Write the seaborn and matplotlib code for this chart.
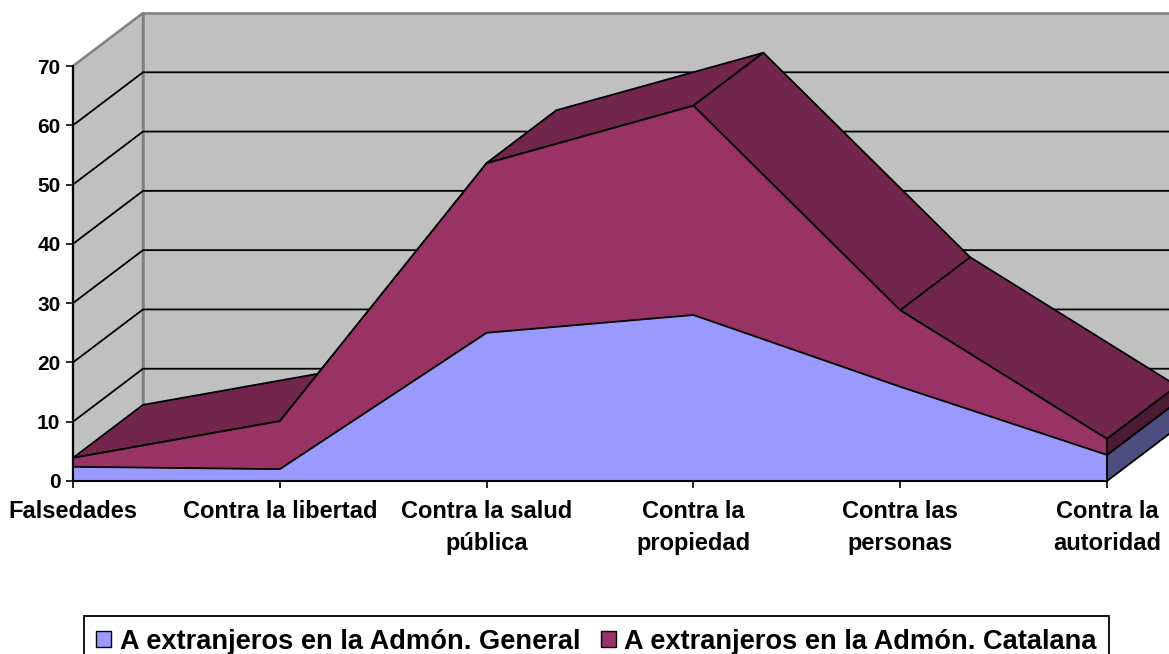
import numpy as np
import pandas as pd
import matplotlib
matplotlib.use('Agg')
import matplotlib.pyplot as plt
from matplotlib.patches import Patch, Polygon
import seaborn as sns

categorias = ['Falsedades', 'Contra la libertad', 'Contra la salud\npública',
              'Contra la\npropiedad', 'Contra las\npersonas', 'Contra la\nautoridad']
general = [2.4, 2.0, 25.0, 28.0, 15.9, 4.4]
catalana = [1.5, 8.1, 28.6, 35.3, 12.9, 2.7]
nombres = ['A extranjeros en la Admón. General', 'A extranjeros en la Admón. Catalana']
yticks = [0, 10, 20, 30, 40, 50, 60, 70]

AZUL = '#9999FF'
GRANATE = '#993366'
GRANATE_TOP = '#73264D'
GRANATE_LADO = '#4D1A33'
AZUL_LADO = '#4D4D80'
PARED = '#C0C0C0'
BORDE = '#808080'
LW = 1.3


def cara(ax, pts, color, z, lw=LW, edge='black'):
    ax.add_patch(Polygon(pts, closed=True, facecolor=color, edgecolor=edge,
                         linewidth=lw, zorder=z, clip_on=False, joinstyle='round'))


def main():
    sns.set_style('white')
    plt.rcParams['font.family'] = ['Liberation Sans', 'DejaVu Sans']
    plt.rcParams['font.weight'] = 'bold'
    plt.rcParams['text.color'] = 'black'

    fig = plt.figure(figsize=(11.69, 6.54), dpi=100)
    # el plano frontal del grafico, lo demas sale fuera con clip_on=False
    ax = fig.add_axes([73 / 1169, 1 - 481 / 654, (1107 - 73) / 1169, (481 - 66) / 654])
    ax.set_xlim(0, 5)
    ax.set_ylim(0, 70)

    # profundidad del efecto 3D en unidades de los ejes
    dx = 70 / (1034 / 5)
    dy = 53 / (415 / 70)

    x = np.arange(len(categorias))
    gen = np.array(general)
    total = gen + np.array(catalana)

    # paredes
    cara(ax, [(0, 0), (dx, dy), (dx, 70 + dy), (0, 70)], PARED, 1, lw=1.8, edge=BORDE)
    cara(ax, [(dx, dy), (5 + dx, dy), (5 + dx, 70 + dy), (dx, 70 + dy)], PARED, 1, lw=1.8, edge=BORDE)
    for v in yticks[1:-1]:
        ax.plot([0, dx, 5 + dx], [v, v + dy, v + dy], color='black', lw=LW, zorder=2, clip_on=False)

    # caras superiores, de izquierda a derecha
    for i in range(len(x) - 1):
        cara(ax, [(x[i], total[i]), (x[i + 1], total[i + 1]),
                  (x[i + 1] + dx, total[i + 1] + dy), (x[i] + dx, total[i] + dy)], GRANATE_TOP, 3)

    # lado derecho
    cara(ax, [(5, 0), (5 + dx, dy), (5 + dx, gen[-1] + dy), (5, gen[-1])], AZUL_LADO, 3)
    cara(ax, [(5, gen[-1]), (5 + dx, gen[-1] + dy), (5 + dx, total[-1] + dy), (5, total[-1])], GRANATE_LADO, 3)

    # caras frontales
    ax.fill_between(x, 0, gen, color=AZUL, lw=0, zorder=4)
    ax.fill_between(x, gen, total, color=GRANATE, lw=0, zorder=4)

    df = pd.DataFrame({'pos': np.tile(x, 2), 'valor': np.r_[gen, total],
                       'serie': np.repeat(nombres, len(x))})
    sns.lineplot(data=df, x='pos', y='valor', hue='serie', palette=['black', 'black'],
                 legend=False, lw=LW, zorder=5, ax=ax, clip_on=False)
    ax.plot([5, 5], [0, total[-1]], color='black', lw=LW, zorder=5, clip_on=False)

    ax.set_xlabel('')
    ax.set_ylabel('')
    ax.set_xticks(x)
    ax.set_xticklabels(categorias, linespacing=1.45)
    ax.set_yticks(yticks)
    ax.tick_params(axis='both', length=5, width=1.2, color='black', direction='out',
                   bottom=True, left=True)
    ax.tick_params(axis='x', pad=9, labelsize=17)
    ax.tick_params(axis='y', pad=4, labelsize=15)
    for lab in ax.get_xticklabels() + ax.get_yticklabels():
        lab.set_fontweight('bold')
        lab.set_color('black')
    for s in ['top', 'right']:
        ax.spines[s].set_visible(False)
    for s in ['left', 'bottom']:
        ax.spines[s].set_linewidth(1.5)
        ax.spines[s].set_color('black')
        ax.spines[s].set_zorder(6)

    handles = [Patch(facecolor=AZUL, edgecolor='black', linewidth=1),
               Patch(facecolor=GRANATE, edgecolor='black', linewidth=1)]
    leg = fig.legend(handles, nombres, ncols=2, loc='upper left',
                     bbox_to_anchor=(83.5 / 1169, 1 - 616 / 654), borderaxespad=0,
                     fancybox=False, framealpha=1, edgecolor='black',
                     handlelength=0.55, handleheight=0.55, handletextpad=0.32,
                     columnspacing=0.75, borderpad=0.46,
                     prop={'weight': 'bold', 'size': 19.6})
    leg.get_frame().set_linewidth(1.3)

    fig.savefig('out.png', dpi=100)


if __name__ == '__main__':
    main()
